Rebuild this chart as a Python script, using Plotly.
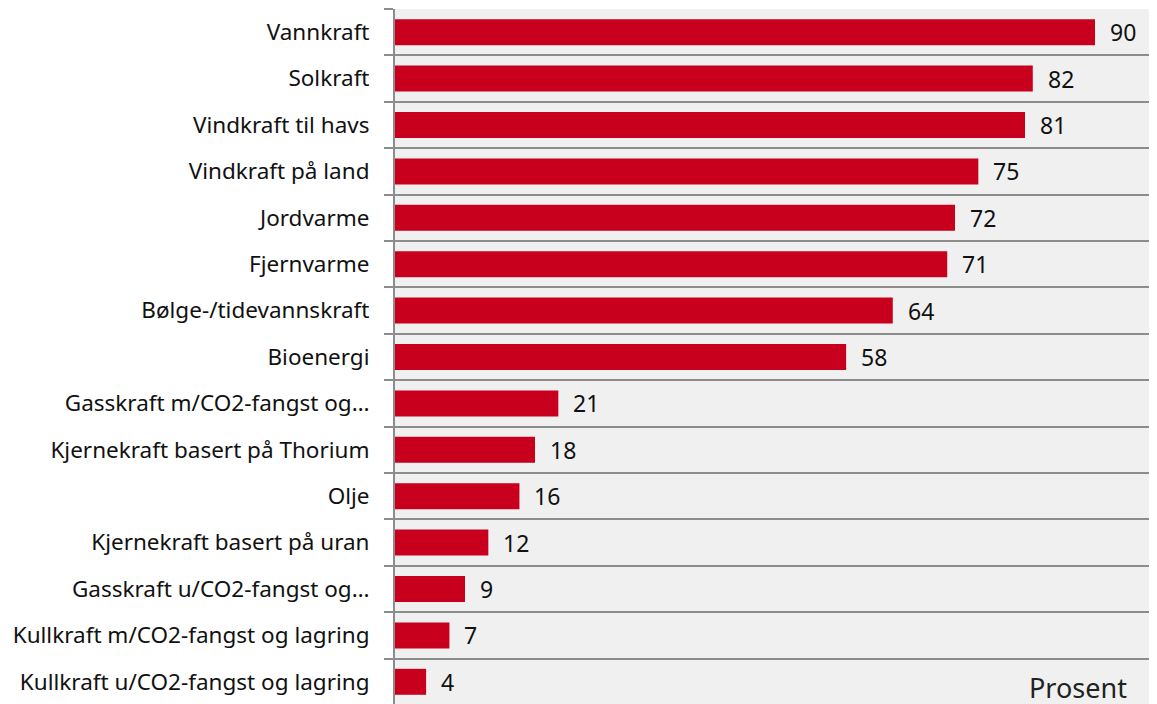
import plotly.graph_objects as go

categories = [
    "Vannkraft", "Solkraft", "Vindkraft til havs", "Vindkraft på land",
    "Jordvarme", "Fjernvarme", "Bølge-/tidevannskraft", "Bioenergi",
    "Gasskraft m/CO2-fangst og…", "Kjernekraft basert på Thorium", "Olje",
    "Kjernekraft basert på uran", "Gasskraft u/CO2-fangst og…",
    "Kullkraft m/CO2-fangst og lagring", "Kullkraft u/CO2-fangst og lagring",
]
values = [90, 82, 81, 75, 72, 71, 64, 58, 21, 18, 16, 12, 9, 7, 4]
unit_label = "Prosent"

FONT = "Noto Sans"
fig = go.Figure()
fig.add_trace(go.Bar(
    y=categories, x=values, orientation="h",
    marker=dict(color="#C8001E", line=dict(width=0)),
    width=0.56,
))
for c, v in zip(categories, values):
    fig.add_annotation(x=v, y=c, text=str(v), showarrow=False,
                       xanchor="left", xshift=13,
                       font=dict(family=FONT, size=23, color="#111"))
fig.add_annotation(x=1, y=0, xref="paper", yref="paper", text=unit_label,
                   showarrow=False, xanchor="right", yanchor="bottom",
                   xshift=-36, yshift=-3,
                   font=dict(family=FONT, size=27, color="#222"))

fig.update_layout(
    width=1157, height=704,
    margin=dict(l=387, r=0, t=1, b=7),
    paper_bgcolor="white", plot_bgcolor="#F0F0F0",
    showlegend=False,
    font=dict(family=FONT, size=22.5, color="#111"),
    xaxis=dict(range=[0, 99], showgrid=False, showticklabels=False,
               zeroline=False, showline=False, automargin=False),
    yaxis=dict(categoryorder="array", categoryarray=categories[::-1],
               automargin=False,
               tickson="boundaries", ticks="outside", ticklen=9,
               tickcolor="#8C8C8C", tickwidth=2,
               showgrid=True, gridcolor="#8C8C8C", gridwidth=2,
               showline=True, linecolor="#8C8C8C", linewidth=2,
               ticklabelstandoff=19,
               tickfont=dict(family=FONT, size=22.5, color="#111")),
)
fig.write_html("out.html")
